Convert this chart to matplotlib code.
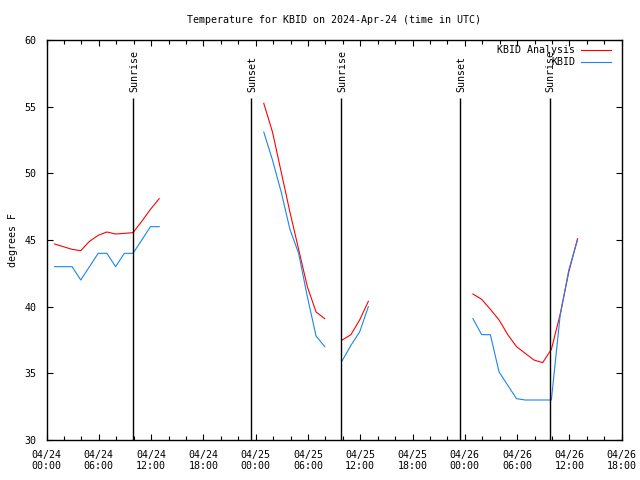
import numpy as np
import matplotlib
matplotlib.use("Agg")
import matplotlib.pyplot as plt

# hours since 2024-04-24 00:00 UTC, one block per data segment
hours_1 = [0.93, 1.93, 2.93, 3.93, 4.93, 5.93, 6.93, 7.93, 8.93, 9.93, 10.93, 11.93, 12.93]
analysis_1 = [44.7, 44.5, 44.3, 44.2, 44.9, 45.35, 45.6, 45.45, 45.5, 45.55, 46.4, 47.3, 48.1]
obs_1 = [43.0, 43.0, 43.0, 42.0, 43.0, 44.0, 44.0, 43.0, 44.0, 44.0, 45.0, 46.0, 46.0]

hours_2 = [24.93, 25.93, 26.93, 27.93, 28.93, 29.93, 30.93, 31.93]
analysis_2 = [55.25, 53.1, 50.1, 47.1, 44.3, 41.5, 39.6, 39.1]
obs_2 = [53.1, 51.0, 48.6, 45.8, 44.0, 40.75, 37.8, 37.0]

hours_3 = [33.93, 34.93, 35.93, 36.93]
analysis_3 = [37.5, 37.9, 39.0, 40.4]
obs_3 = [35.95, 37.1, 38.1, 40.0]

hours_4 = [48.93, 49.93, 50.93, 51.93, 52.93, 53.93, 54.93, 55.93, 56.93, 57.93, 58.93, 59.93, 60.93]
analysis_4 = [40.95, 40.55, 39.8, 39.0, 37.9, 37.0, 36.5, 36.0, 35.8, 36.8, 39.4, 42.6, 45.1]
obs_4 = [39.1, 37.9, 37.9, 35.1, 34.1, 33.1, 33.0, 33.0, 33.0, 33.0, 39.3, 42.75, 45.0]

sun_events = ["Sunrise", "Sunset", "Sunrise", "Sunset", "Sunrise"]
sun_hours = [9.95, 23.52, 33.8, 47.46, 57.77]

tick_hours = [0, 6, 12, 18, 24, 30, 36, 42, 48, 54, 60, 66]
tick_labels = ["04/24\n00:00", "04/24\n06:00", "04/24\n12:00", "04/24\n18:00",
               "04/25\n00:00", "04/25\n06:00", "04/25\n12:00", "04/25\n18:00",
               "04/26\n00:00", "04/26\n06:00", "04/26\n12:00", "04/26\n18:00"]
y_ticks = [30, 35, 40, 45, 50, 55, 60]


def join(*blocks):
    # NaN between blocks so the line breaks at data gaps
    out = []
    for i, b in enumerate(blocks):
        if i:
            out.append(np.nan)
        out.extend(b)
    return np.array(out, dtype=float)


hours = join(hours_1, hours_2, hours_3, hours_4)
analysis = join(analysis_1, analysis_2, analysis_3, analysis_4)
obs = join(obs_1, obs_2, obs_3, obs_4)

plt.rcParams["font.family"] = ["DejaVu Sans Mono"]
plt.rcParams["font.size"] = 7.2

fig = plt.figure(figsize=(6.4, 4.8), dpi=100)
ax = fig.add_axes([46.5 / 640, 1 - 440 / 480, (621.7 - 46.5) / 640, 400 / 480])

ax.plot(hours, analysis, color="#ff0000", linewidth=0.8, label="KBID Analysis")
ax.plot(hours, obs, color="#1a85f0", linewidth=0.8, label="KBID")

for name, h in zip(sun_events, sun_hours):
    ax.vlines(h, 30, 55.65, color="black", linewidth=1.0)
    ax.text(h + 0.1, 56.1, name, rotation=90, ha="center", va="bottom")

ax.set_xlim(0, 66)
ax.set_ylim(30, 60)
ax.set_xticks(tick_hours)
ax.set_xticklabels(tick_labels)
ax.set_xticks(np.arange(0, 67, 2), minor=True)
ax.set_yticks(y_ticks)
ax.tick_params(which="both", direction="in", top=True, right=True, width=0.8)
ax.tick_params(which="major", length=4, pad=7)
ax.tick_params(which="minor", length=3)
for s in ax.spines.values():
    s.set_linewidth(1.0)

ax.set_ylabel("degrees F", labelpad=5)
fig.text(334 / 640, 1 - 20 / 480, "Temperature for KBID on 2024-Apr-24 (time in UTC)",
         ha="center", va="center")

ax.legend(loc="upper right", bbox_to_anchor=(611 / 640, 1 - 45 / 480),
          bbox_transform=fig.transFigure, frameon=False, markerfirst=False,
          handlelength=3.0, handletextpad=0.6, labelspacing=0.2,
          borderpad=0, borderaxespad=0)

fig.savefig("out.png", dpi=100)
